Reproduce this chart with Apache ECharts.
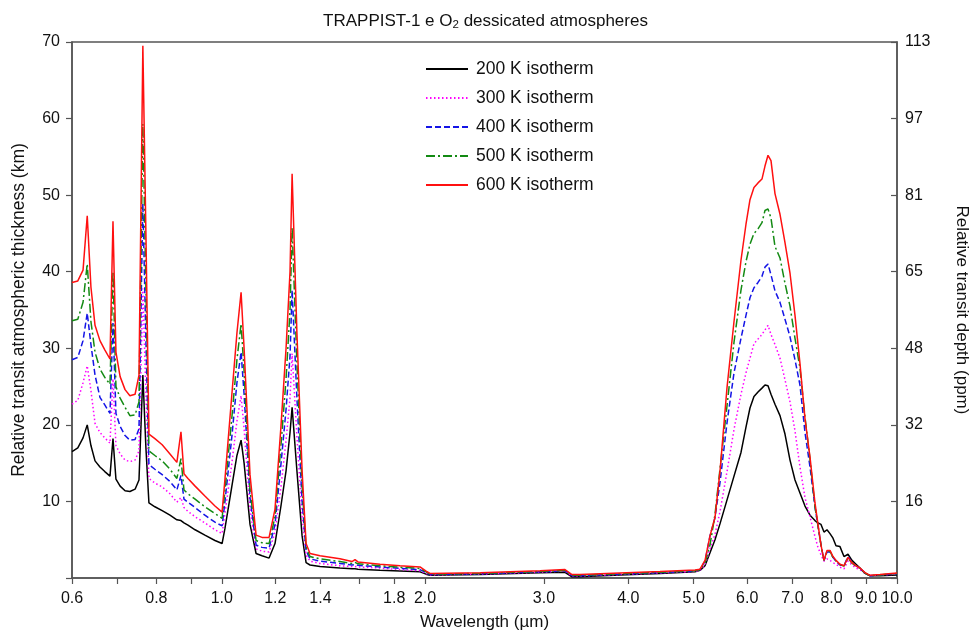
<!DOCTYPE html>
<html><head><meta charset="utf-8">
<script src="https://cdn.jsdelivr.net/npm/echarts@6/dist/echarts.min.js"></script>
<style>html,body{margin:0;padding:0;background:#fff}#c{width:971px;height:633px}</style>
</head><body><div id="c"></div>
<script>
// Wavelength (µm)
const wavelength = [
0.600,0.612,0.623,0.632,0.640,0.649,0.660,0.671,0.683,0.690,0.697,0.707,0.719,0.731,0.744,0.754,0.764,0.772,
0.780,0.796,0.816,0.838,0.858,0.870,0.879,0.891,0.913,0.944,0.977,1.001,1.011,1.035,1.053,1.068,1.079,1.101,1.124,1.147,1.175,1.199,1.224,1.245,1.262,1.271,1.292,1.315,1.333,1.351,
1.398,1.496,1.559,1.575,1.591,1.715,1.836,1.966,2.007,2.034,2.414,2.960,3.223,3.301,3.392,3.888,4.457,
5.022,5.108,5.196,5.285,5.376,5.469,5.601,5.736,5.874,5.975,6.057,6.140,6.225,6.310,6.375,6.441,6.507,6.596,6.710,6.825,6.943,7.062,7.183,7.307,7.433,7.560,7.638,7.717,7.796,7.876,7.957,8.039,8.122,8.233,8.346,8.461,8.577,8.695,8.814,8.966,9.120,9.436,10.0];

// Relative transit atmospheric thickness (km)
const iso200 = [
16.5,17.0,18.3,20.0,17.3,15.3,14.5,13.9,13.3,18.2,12.9,12.0,11.4,11.3,11.6,12.8,26.5,17,
9.8,9.3,8.8,8.2,7.6,7.5,7.2,6.9,6.3,5.6,4.9,4.5,6.5,12.0,16.0,18.0,15.0,7.0,3.2,2.9,2.6,4.5,9.5,14.0,19.0,22.3,14.0,5.5,2.0,1.7,
1.5,1.3,1.2,1.2,1.15,1.0,0.9,0.8,0.5,0.35,0.45,0.7,0.75,0.15,0.15,0.4,0.6,
0.8,1.0,1.6,3.3,5.0,7.1,10.2,13.3,16.4,19.7,22.2,23.7,24.3,24.8,25.2,25.1,24.0,22.7,21.2,18.8,15.4,12.8,11.1,9.4,8.2,7.5,7.2,7.0,6.0,6.3,5.8,5.2,4.2,4.1,2.8,3.1,2.3,1.8,1.3,0.6,0.3,0.3,0.4];
const iso300 = [
22.7,23.2,25.5,27.7,24.5,20.2,19.0,18.3,17.6,26.0,17.3,16.2,15.4,15.2,15.4,16.6,37.8,24,
13.0,12.4,11.9,11.0,9.9,10.5,9.2,8.7,8.0,7.2,6.3,5.8,8.5,15.0,20.5,23.8,19.5,9.0,3.8,3.5,3.4,6.0,12.0,18.0,23.5,29.3,18.5,8.0,3.0,2.2,
1.9,1.6,1.5,1.5,1.45,1.3,1.1,0.95,0.6,0.4,0.5,0.75,0.9,0.25,0.25,0.45,0.65,
0.85,1.0,1.7,3.8,5.7,8.7,13.9,19.4,24.0,26.8,28.7,30.6,31.2,31.8,32.4,33.0,31.8,30.5,28.7,25.9,23.0,19.2,14.5,10.5,8.0,5.4,4.0,3.0,2.2,2.5,2.3,2.0,1.8,1.4,1.2,2.2,1.7,1.3,1.1,0.6,0.3,0.4,0.5];
const iso400 = [
28.5,28.8,31.0,34.6,30.5,26.5,23.6,22.6,21.5,33.3,21.5,19.8,18.6,18.0,18.1,19.5,48.9,31,
14.8,14.2,13.5,12.6,11.5,13.4,10.3,9.9,9.2,8.2,7.3,6.8,10.0,18.5,25.5,29.5,24.0,10.5,4.3,4.0,3.9,7.0,15.0,22.0,29.0,37.6,23.5,10.0,3.6,2.5,
2.2,1.9,1.7,1.75,1.65,1.45,1.25,1.1,0.7,0.45,0.55,0.8,0.95,0.3,0.3,0.5,0.7,
0.9,1.1,2.2,5.5,7.9,12.5,20.3,26.8,31.3,34.3,36.6,37.9,38.6,39.4,40.6,41.0,39.6,37.5,36.0,33.8,31.5,28.5,25.2,19.0,14.5,9.3,6.8,4.3,2.3,3.4,3.4,2.7,2.2,1.7,1.6,2.8,2.0,1.6,1.25,0.65,0.3,0.4,0.55];
const iso500 = [
33.6,33.8,36.0,41.0,33.5,29.5,27.3,26.2,25.3,40.0,25.0,23.5,22.3,21.2,21.3,23.0,59.3,38,
16.6,16.0,15.3,14.2,13.0,15.6,11.5,11.0,10.3,9.3,8.4,7.8,11.5,21.0,28.5,33.2,27.0,11.5,4.9,4.6,4.5,8.0,17.5,26.0,35.0,45.8,28.0,12.0,4.0,2.8,
2.5,2.15,1.9,2.05,1.85,1.6,1.4,1.25,0.8,0.5,0.6,0.85,1.0,0.35,0.35,0.55,0.75,
0.95,1.1,2.0,4.3,8.3,14.3,22.5,30.8,37.6,41.3,43.6,45.0,45.6,46.4,48.0,48.2,47.0,43.3,41.8,38.5,35.5,31.3,27.4,21.0,15.5,9.3,6.8,4.3,2.3,3.5,3.5,2.7,2.2,1.75,1.55,2.6,1.95,1.55,1.25,0.65,0.3,0.4,0.6];
const iso600 = [
38.6,38.8,40.2,47.3,38.0,33.0,31.0,29.8,28.6,46.6,29.5,26.3,24.6,23.8,24.0,26.5,69.5,45,
18.8,18.2,17.4,16.2,15.1,19.1,13.6,13.0,12.0,10.7,9.4,8.6,13.0,24.0,32.0,37.3,30.0,13.5,5.6,5.3,5.3,9.0,20.0,30.0,40.0,52.8,32.0,14.0,4.5,3.2,
2.9,2.5,2.15,2.4,2.1,1.8,1.6,1.45,0.9,0.6,0.7,0.95,1.1,0.45,0.45,0.65,0.85,
1.05,1.15,2.3,5.5,7.9,14.0,24.9,33.5,41.5,46.2,49.4,51.0,51.6,52.1,53.8,55.2,54.5,50.2,47.5,43.8,39.8,34.3,28.0,20.8,15.8,9.8,7.0,4.3,2.3,3.6,3.6,2.8,2.3,1.8,1.6,2.7,2.0,1.6,1.3,0.7,0.35,0.45,0.65];

const seriesNames = ['200 K isotherm','300 K isotherm','400 K isotherm','500 K isotherm','600 K isotherm'];
const xTickValues = [0.6,0.7,0.8,0.9,1.0,1.2,1.4,1.6,1.8,2.0,3.0,4.0,5.0,6.0,7.0,8.0,9.0,10.0];
const xLabelValues = [0.6,0.8,1.0,1.2,1.4,1.8,2.0,3.0,4.0,5.0,6.0,7.0,8.0,9.0,10.0];
const rightTickLabels = [16,32,48,65,81,97,113];

const allSeries = [iso200, iso300, iso400, iso500, iso600];
const colors = ['#000000','#ff00ff','#1414e6','#138a13','#ff1010'];
const dashes = ['solid',[1.5,2.5],[6,3],[9,3,2,3],'solid'];

const FONT = '"Liberation Sans", Arial, sans-serif';
const chart = echarts.init(document.getElementById('c'), null, {renderer:'canvas'});
const xMin = Math.log10(0.6), xMax = Math.log10(10);
const axisCol = '#555';
const txt = '#111';

chart.setOption({
  backgroundColor: '#fff',
  animation: false,
  textStyle: {fontFamily: FONT},
  title: {
    text: '{a|TRAPPIST-1 e O}{s|2}{a| dessicated atmospheres}',
    left: 'center', top: 6,
    textStyle: {
      fontWeight: 'normal',
      rich: {
        a: {fontSize: 17, lineHeight: 20, color: txt, fontFamily: FONT, fontWeight: 'normal'},
        s: {fontSize: 11.5, lineHeight: 10, verticalAlign: 'bottom', color: txt, fontFamily: FONT, fontWeight: 'normal'}
      }
    }
  },
  legend: {
    orient: 'vertical', left: 425, top: 60, padding: 0,
    itemWidth: 42, itemHeight: 14, itemGap: 11,
    itemStyle: {opacity: 0},
    textStyle: {fontSize: 17.5, color: txt, fontFamily: FONT, padding: [0,0,0,3]},
    data: seriesNames
  },
  grid: {left: 72, right: 74, top: 42, bottom: 55, show: true, borderColor: axisCol, borderWidth: 1.5,
         containLabel: false, outerBoundsMode: 'none'},
  xAxis: {
    type: 'value', min: xMin, max: xMax,
    name: 'Wavelength (µm)', nameLocation: 'middle', nameGap: 36,
    nameTextStyle: {fontSize: 17, color: txt},
    axisLine: {show: true, onZero: false, lineStyle: {color: axisCol, width: 1.5}},
    axisTick: {show: true, length: 6, lineStyle: {color: axisCol, width: 1.2}, customValues: xTickValues.map(v => Math.log10(v))},
    axisLabel: {fontSize: 16, color: txt, margin: 13, customValues: xLabelValues.map(v => Math.log10(v)),
      formatter: v => Math.pow(10, v).toFixed(1)},
    splitLine: {show: false}
  },
  yAxis: [{
    type: 'value', min: 0, max: 70, interval: 10, position: 'left',
    name: 'Relative transit atmospheric thickness (km)', nameLocation: 'middle', nameGap: 44,
    nameTextStyle: {fontSize: 17.5, color: txt},
    axisLine: {show: true, onZero: false, lineStyle: {color: axisCol, width: 1.5}},
    axisTick: {show: true, length: 6, lineStyle: {color: axisCol, width: 1.2}},
    axisLabel: {fontSize: 16, color: txt, margin: 12, formatter: v => v === 0 ? '' : String(v)},
    splitLine: {show: false}
  }, {
    type: 'value', min: 0, max: 70, interval: 10, position: 'right',
    name: 'Relative transit depth (ppm)', nameLocation: 'middle', nameGap: 56, nameRotate: -90,
    nameTextStyle: {fontSize: 17, color: txt},
    axisLine: {show: true, onZero: false, lineStyle: {color: axisCol, width: 1.5}},
    axisTick: {show: true, inside: true, length: 6, lineStyle: {color: axisCol, width: 1.2}},
    axisLabel: {fontSize: 16, color: txt, margin: 8, formatter: v => v === 0 ? '' : String(rightTickLabels[Math.round(v / 10) - 1])},
    splitLine: {show: false}
  }],
  series: allSeries.map((arr, k) => ({
    name: seriesNames[k], type: 'line', yAxisIndex: 0,
    showSymbol: false, symbol: 'none', smooth: false,
    lineStyle: {color: colors[k], width: 1.5, type: dashes[k]},
    itemStyle: {color: colors[k]},
    data: wavelength.map((w, i) => [Math.log10(w), arr[i]])
  }))
});
</script></body></html>
